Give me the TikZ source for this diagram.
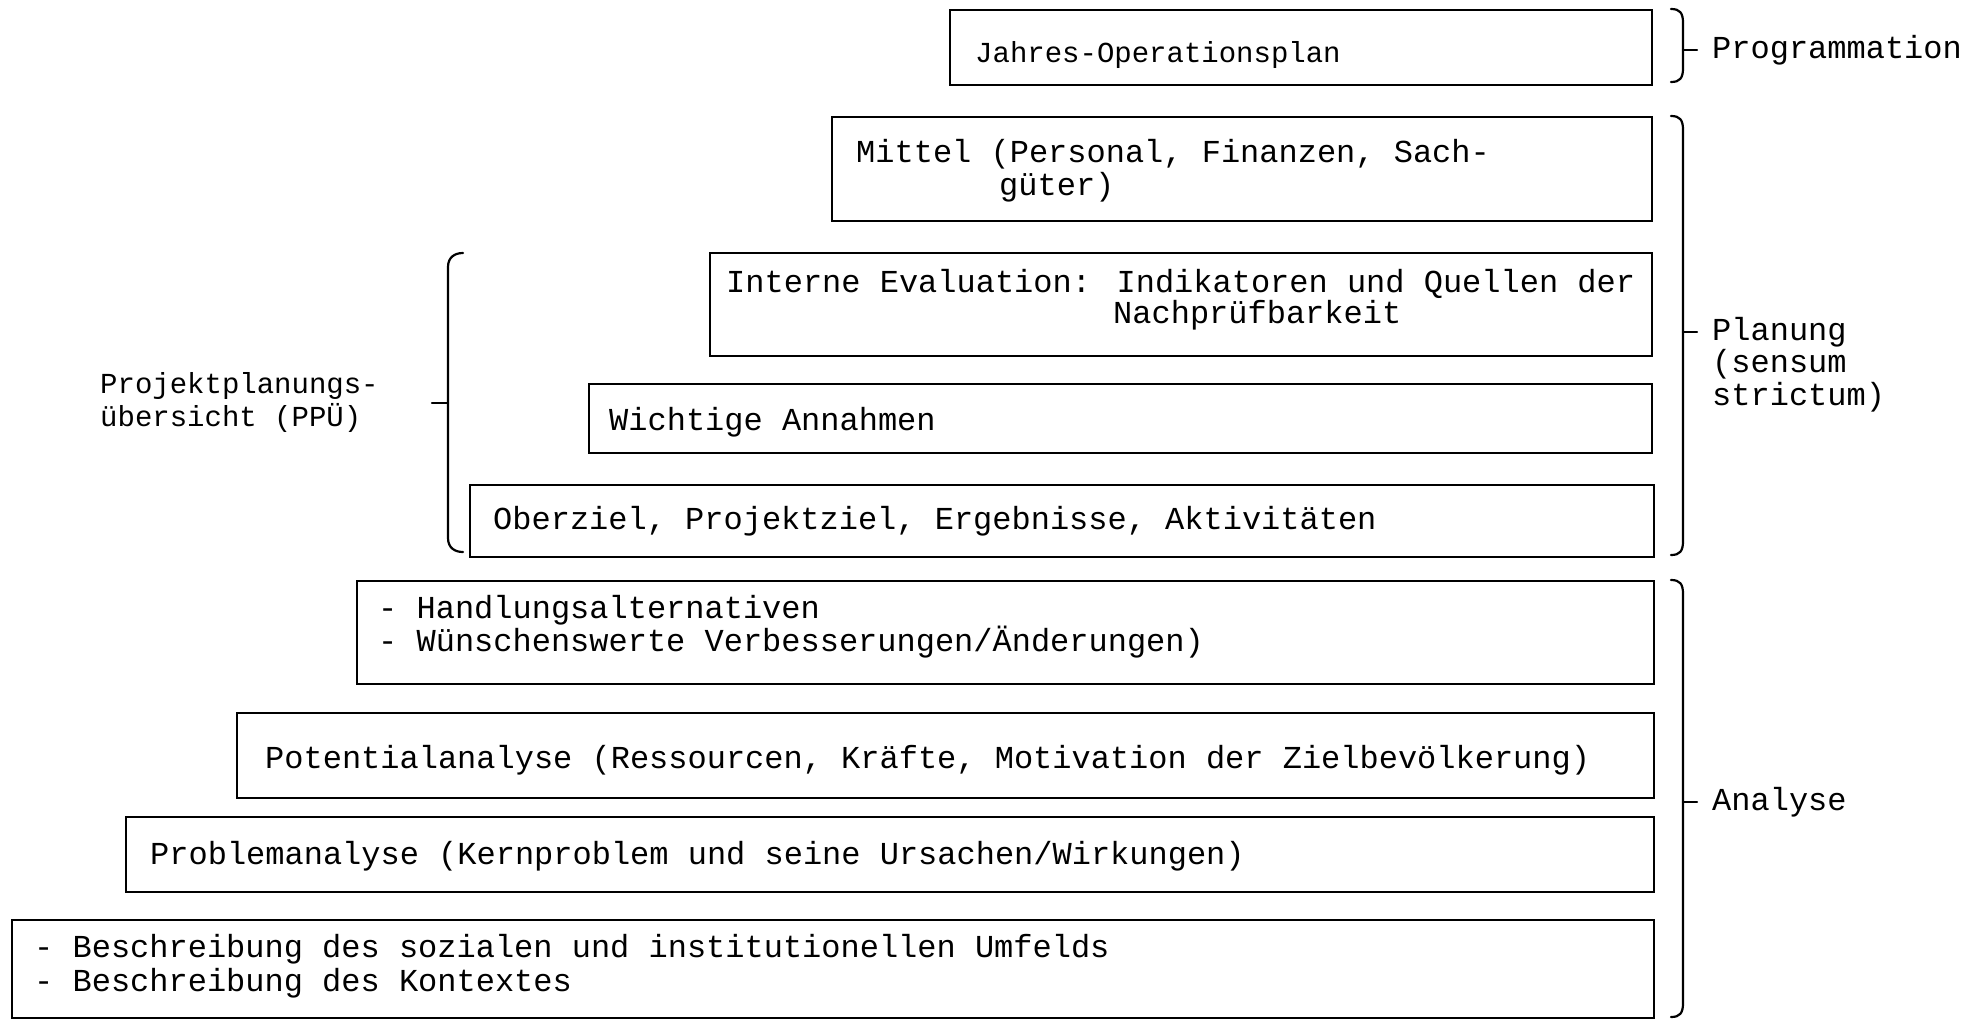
\documentclass[tikz,border=0pt]{standalone}
\usepackage{fontspec}
\setmainfont{Liberation Mono}
\begin{document}
\begin{tikzpicture}[x=1pt,y=-1pt,
  box/.style={draw,line width=2.2pt,rectangle,inner sep=0pt,anchor=north west},
  txt/.style={anchor=base west,inner sep=0pt,font=\fontsize{32}{33}\selectfont},
  smalltxt/.style={anchor=base west,inner sep=0pt,font=\fontsize{29}{33}\selectfont},
  brace/.style={line width=2.2pt,line cap=round,line join=round}]
\useasboundingbox (0,0) rectangle (1977,1020);

% stacked boxes, bottom one widest
\newcommand{\stepbox}[5]{%
  \node[box,minimum width={#4-#2},minimum height={#5-#3}] (#1) at (#2,#3) {};}
\stepbox{b1}{949}{9}{1651}{84}
\stepbox{b2}{831}{116}{1651}{220}
\stepbox{b3}{709}{252}{1651}{355}
\stepbox{b4}{588}{383}{1651}{452}
\stepbox{b5}{469}{484}{1653}{556}
\stepbox{b6}{356}{580}{1653}{683}
\stepbox{b7}{236}{712}{1653}{797}
\stepbox{b8}{125}{816}{1653}{891}
\stepbox{b9}{11}{919}{1653}{1017}

% box texts
\node[smalltxt] (t1) at (975,62) {Jahres-Operationsplan};
\node[txt] (t2a) at (856,162) {Mittel (Personal, Finanzen, Sach-};
\node[txt] (t2b) at (999,195) {güter)};
\node[txt] (t3a) at (726,292) {Interne Evaluation: Indikatoren und Quellen der};
\node[txt] (t3b) at (1113,323) {Nachprüfbarkeit};
\node[txt] (t4) at (609,430) {Wichtige Annahmen};
\node[txt] (t5) at (493,529) {Oberziel, Projektziel, Ergebnisse, Aktivitäten};
\node[txt] (t6a) at (378,618) {- Handlungsalternativen};
\node[txt] (t6b) at (378,651) {- Wünschenswerte Verbesserungen/Änderungen)};
\node[txt] (t7) at (265,768) {Potentialanalyse (Ressourcen, Kräfte, Motivation der Zielbevölkerung)};
\node[txt] (t8) at (150,864) {Problemanalyse (Kernproblem und seine Ursachen/Wirkungen)};
\node[txt] (t9a) at (34,957) {- Beschreibung des sozialen und institutionellen Umfelds};
\node[txt] (t9b) at (34,991) {- Beschreibung des Kontextes};

% right-hand braces
\newcommand{\rightgroup}[3]{% top, bottom, tick
  \draw[brace] (1671,#1) .. controls (1680,#1) and (1683,{#1+4}) .. (1683,{#1+14})
     -- (1683,{#2-14}) .. controls (1683,{#2-4}) and (1680,#2) .. (1671,#2);
  \draw[brace] (1683,#3) -- (1697,#3);}
\rightgroup{9}{82}{50}
\rightgroup{116}{555}{332}
\rightgroup{580}{1017}{802}

\node[txt,anchor=west] (lprog) at (1712,50) {Programmation};
\node[txt,anchor=north west,align=left,font=\fontsize{32}{32.5}\selectfont] (lplan) at (1712,317) {Planung\\(sensum\\strictum)};
\node[txt,anchor=west] (lana) at (1712,802) {Analyse};

% left brace grouping the project planning overview
\draw[brace] (463,253) .. controls (455,253) and (448,257) .. (448,267)
   -- (448,538) .. controls (448,548) and (455,552) .. (463,552);
\draw[brace] (448,403) -- (432,403);
\node[smalltxt,anchor=north west,align=left,font=\fontsize{29}{33}\selectfont] (lppu) at (100,372) {Projektplanungs-\\übersicht (PPÜ)};
\end{tikzpicture}
\end{document}
